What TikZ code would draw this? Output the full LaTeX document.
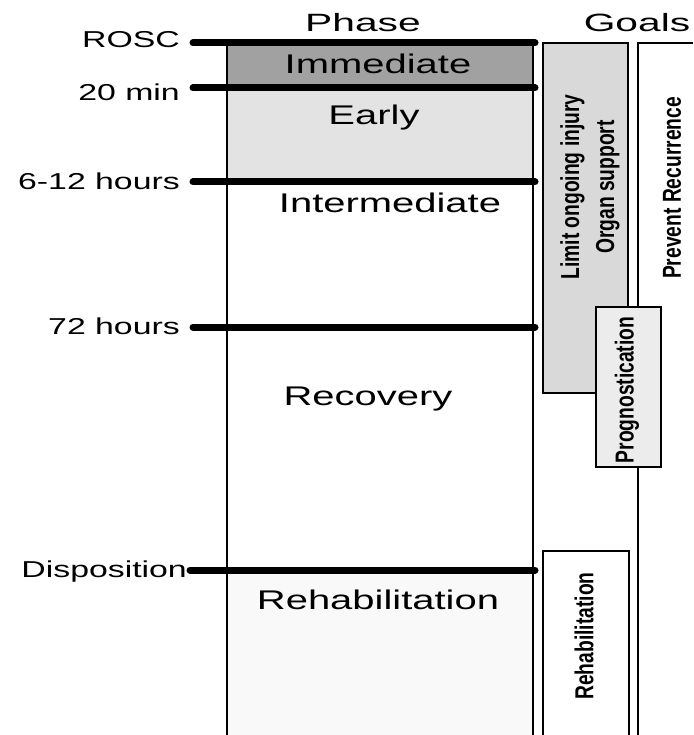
\documentclass[tikz,border=0pt]{standalone}
\usepackage{fontspec}
\setmainfont{Liberation Sans}
\newfontfamily\headfont[FakeStretch=1.63]{Liberation Sans}
\newfontfamily\phasefont[FakeStretch=1.48]{Liberation Sans}
\newfontfamily\timefont[FakeStretch=1.47]{Liberation Sans}
\newfontfamily\goalfont[FakeStretch=0.74]{Liberation Sans}
\definecolor{immgray}{gray}{0.63}
\definecolor{earlygray}{gray}{0.89}
\definecolor{rehabgray}{gray}{0.975}
\definecolor{limitgray}{gray}{0.85}
\definecolor{proggray}{gray}{0.925}
\begin{document}
\begin{tikzpicture}[x=1pt,y=-1pt,
    bar/.style={line width=7pt,line cap=round},
    boxline/.style={draw=black,line width=1.2pt},
    header/.style={anchor=base,inner sep=0pt,font=\headfont\fontsize{25}{30}\selectfont},
    phasename/.style={anchor=base,inner sep=0pt,font=\phasefont\fontsize{27}{32}\selectfont},
    timelabel/.style={anchor=base east,inner sep=0pt,font=\timefont\fontsize{23}{28}\selectfont},
    goaltext/.style={rotate=90,align=center,inner sep=0pt,font=\goalfont\bfseries\fontsize{26}{35}\selectfont}]
    \useasboundingbox (0,0) rectangle (693,735);
    % phase column
    \fill [immgray] (227,43) rectangle (533,88);
    \fill [earlygray] (227,88) rectangle (533,182);
    \fill [rehabgray] (227,570) rectangle (533,735);
    \draw [line width=1.5pt] (227,43) -- (227,735);
    \draw [line width=1.5pt] (533,43) -- (533,735);
    \draw [bar] (193,43) -- (535,43);
    \draw [bar] (193,88) -- (535,88);
    \draw [bar] (193,182) -- (535,182);
    \draw [bar] (193,327) -- (535,327);
    \draw [bar] (190,570) -- (535,570);
    % goals
    \filldraw [boxline,fill=limitgray] (543,43) rectangle (628,393);
    \draw [boxline] (638,735) -- (638,43) -- (693,43);
    \filldraw [boxline,fill=proggray] (596,307) rectangle (661,467);
    \filldraw [boxline,fill=white] (543,735) -- (543,551) -- (629,551) -- (629,735);
    % texts
    \node [header] (phase) at (363,32) {Phase};
    \node [header] (goals) at (637,32) {Goals};
    \node [phasename] (immediate) at (378,74) {Immediate};
    \node [phasename] (early) at (374,125) {Early};
    \node [phasename] (intermediate) at (390,212) {Intermediate};
    \node [phasename] (recovery) at (368,405) {Recovery};
    \node [phasename] (rehab) at (378,609) {Rehabilitation};
    \node [timelabel] (rosc) at (180,48) {ROSC};
    \node [timelabel] (twenty) at (180,101) {20 min};
    \node [timelabel] (sixtwelve) at (180,190) {6-12 hours};
    \node [timelabel] (seventytwo) at (180,334) {72 hours};
    \node [timelabel] (disposition) at (187,577) {Disposition};
    \node [goaltext] (limit) at (590,187) {Limit ongoing injury\\Organ support};
    \node [goaltext] (prevent) at (672,188) {Prevent Recurrence};
    \node [goaltext] (prog) at (627,390) {Prognostication};
    \node [goaltext] (rehabgoal) at (584,636) {Rehabilitation};
\end{tikzpicture}
\end{document}
